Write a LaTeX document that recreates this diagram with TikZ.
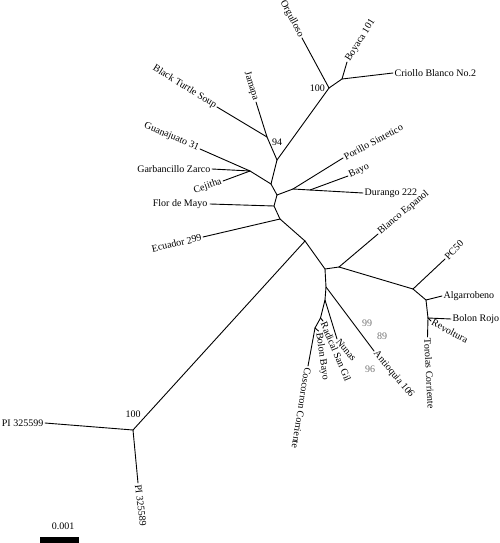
\documentclass[tikz,border=0pt]{standalone}
\usepackage{fontspec}
\setmainfont{Liberation Serif}
\usetikzlibrary{positioning}

\begin{document}
\begin{tikzpicture}[
    x=1pt, y=-1pt,
    br/.style={line width=0.9pt, line cap=round, line join=round},
    tip/.style={font=\fontsize{10}{12}\selectfont, inner sep=1.5pt},
    boot/.style={font=\fontsize{10}{12}\selectfont, inner sep=0pt},
    weak/.style={boot, text=black!55}
  ]
  \useasboundingbox (0,0) rectangle (500,543);

  % internal nodes
  \coordinate (nA) at (329,88);
  \coordinate (nB) at (342,79);
  \coordinate (n94) at (267,137);
  \coordinate (nC) at (277,160);
  \coordinate (nG) at (250,171);
  \coordinate (nD) at (271,184);
  \coordinate (nE) at (277,195);
  \coordinate (nP) at (293,189);
  \coordinate (nQ) at (310,190);
  \coordinate (nF) at (274,206);
  \coordinate (nH) at (280,219);
  \coordinate (nR) at (305,241);
  \coordinate (nPI) at (133,430);
  \coordinate (nS) at (325,269);
  \coordinate (nT) at (339,267);
  \coordinate (nU) at (413,289);
  \coordinate (nV) at (426,300);
  \coordinate (nW) at (428,318);
  \coordinate (nX) at (326,287);
  \coordinate (nY) at (325,300);
  \coordinate (nZ) at (320.5,318);
  \coordinate (nK) at (315,328);

  % leaves
  \coordinate (lOrg) at (302,38);
  \coordinate (lBoy) at (347,62);
  \coordinate (lCri) at (393,73);
  \coordinate (lJam) at (256,102);
  \coordinate (lBts) at (217,107);
  \coordinate (lGua) at (200,149);
  \coordinate (lGar) at (212,169);
  \coordinate (lCej) at (223,181);
  \coordinate (lPor) at (343,158);
  \coordinate (lBay) at (348,176);
  \coordinate (lDur) at (363,193);
  \coordinate (lFlo) at (210,204);
  \coordinate (lEcu) at (203,237);
  \coordinate (lPia) at (45,423);
  \coordinate (lPib) at (138,483);
  \coordinate (lBla) at (378,234);
  \coordinate (lPc) at (445,259);
  \coordinate (lAlg) at (442,296);
  \coordinate (lBro) at (451,319);
  \coordinate (lRev) at (431,321);
  \coordinate (lTor) at (427.5,337);
  \coordinate (lAnt) at (374,351);
  \coordinate (lNun) at (337,339);
  \coordinate (lRad) at (323,321);
  \coordinate (lBba) at (318.5,331);
  \coordinate (lCos) at (308,366);

  \draw[br] (nA) -- (lOrg);
  \draw[br] (nA) -- (nB);
  \draw[br] (nB) -- (lBoy);
  \draw[br] (nB) -- (lCri);
  \draw[br] (nA) -- (nC);
  \draw[br] (n94) -- (lJam);
  \draw[br] (n94) -- (lBts);
  \draw[br] (n94) -- (nC);
  \draw[br] (nC) -- (nD);
  \draw[br] (nG) -- (lGua);
  \draw[br] (nG) -- (lGar);
  \draw[br] (nG) -- (lCej);
  \draw[br] (nG) -- (nD);
  \draw[br] (nD) -- (nE);
  \draw[br] (nE) -- (nP);
  \draw[br] (nP) -- (lPor);
  \draw[br] (nP) -- (nQ);
  \draw[br] (nQ) -- (lBay);
  \draw[br] (nQ) -- (lDur);
  \draw[br] (nE) -- (nF);
  \draw[br] (nF) -- (lFlo);
  \draw[br] (nF) -- (nH);
  \draw[br] (nH) -- (lEcu);
  \draw[br] (nH) -- (nR);
  \draw[br] (nR) -- (nPI);
  \draw[br] (nPI) -- (lPia);
  \draw[br] (nPI) -- (lPib);
  \draw[br] (nR) -- (nS);
  \draw[br] (nS) -- (nT);
  \draw[br] (nT) -- (lBla);
  \draw[br] (nT) -- (nU);
  \draw[br] (nU) -- (lPc);
  \draw[br] (nU) -- (nV);
  \draw[br] (nV) -- (lAlg);
  \draw[br] (nV) -- (nW);
  \draw[br] (nW) -- (lBro);
  \draw[br] (nW) -- (lRev);
  \draw[br] (nW) -- (lTor);
  \draw[br] (nS) -- (nX);
  \draw[br] (nX) -- (lAnt);
  \draw[br] (nX) -- (nY);
  \draw[br] (nY) -- (lNun);
  \draw[br] (nY) -- (nZ);
  \draw[br] (nZ) -- (lRad);
  \draw[br] (nZ) -- (nK);
  \draw[br] (nK) -- (lBba);
  \draw[br] (nK) -- (lCos);

  % taxon labels
  \node[tip, anchor=east, rotate=-62] (org) at (lOrg) {Orgulloso};
  \node[tip, anchor=west, rotate=58] (boy) at (lBoy) {Boyaca 101};
  \node[tip, anchor=west] (cri) at (lCri) {Criollo Blanco No.2};
  \node[tip, anchor=east, rotate=-73] (jam) at (lJam) {Jamapa};
  \node[tip, anchor=east, rotate=-32] (bts) at (lBts) {Black Turtle Soup};
  \node[tip, anchor=east, rotate=-23] (gua) at (lGua) {Guanajuato 31};
  \node[tip, anchor=east] (gar) at (lGar) {Garbancillo Zarco};
  \node[tip, anchor=east, rotate=19] (cej) at (lCej) {Cejitha};
  \node[tip, anchor=west, rotate=28] (por) at (lPor) {Porillo Sintetico};
  \node[tip, anchor=west, rotate=25] (bay) at (lBay) {Bayo};
  \node[tip, anchor=west] (dur) at (lDur) {Durango 222};
  \node[tip, anchor=east, inner sep=2.5pt] (flo) at (lFlo) {Flor de Mayo};
  \node[tip, anchor=east, rotate=13] (ecu) at (lEcu) {Ecuador 299};
  \node[tip, anchor=east] (pia) at (lPia) {PI 325599};
  \node[tip, anchor=west, rotate=-83] (pib) at (lPib) {PI 325589};
  \node[tip, anchor=west, rotate=40] (bla) at (lBla) {Blanco Espanol};
  \node[tip, anchor=west, rotate=45] (pc) at (lPc) {PC50};
  \node[tip, anchor=west] (alg) at (lAlg) {Algarrobeno};
  \node[tip, anchor=west] (bro) at (lBro) {Bolon Rojo};
  \node[tip, anchor=west, rotate=-28] (rev) at (lRev) {Revoltura};
  \node[tip, anchor=west, rotate=-87] (tor) at (lTor) {Torolas Corriente};
  \node[tip, anchor=west, rotate=-50] (ant) at (lAnt) {Antioquia 106};
  \node[tip, anchor=west, rotate=-50] (nun) at (lNun) {Nunas};
  \node[tip, anchor=west, rotate=-67] (rad) at (lRad) {Radical San Gil};
  \node[tip, anchor=west, rotate=-82] (bba) at (lBba) {Bolon Bayo};
  \node[tip, anchor=west, rotate=-99] (cos) at (lCos) {Coscorron Corriente};

  % bootstrap values
  \node[boot, left=4pt of nA] (bA) {100};
  \node[boot, below right=2pt and 5pt of n94] (b94) {94};
  \node[boot, above=12pt of nPI] (bPI) {100};
  \node[weak] (b99) at (367,323) {99};
  \node[weak] (b89) at (382,336) {89};
  \node[weak] (b96) at (370,369) {96};

  % scale bar
  \fill (40,536.5) rectangle (79,543);
  \node[boot] (scl) at (63,526) {0.001};
\end{tikzpicture}
\end{document}
